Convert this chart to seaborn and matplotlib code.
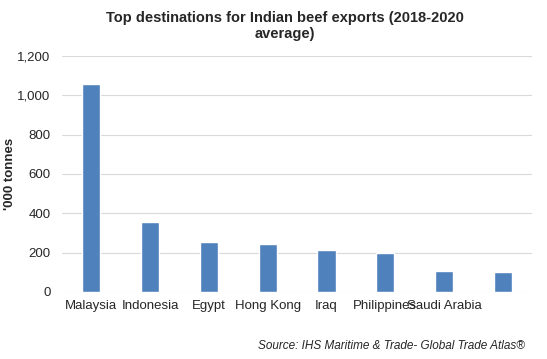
import seaborn as sns
import matplotlib.pyplot as plt
import pandas as pd

countries = ["Malaysia", "Indonesia", "Egypt", "Hong Kong", "Iraq",
             "Philippines", "Saudi Arabia", "Other"]
tick_labels = ["Malaysia", "Indonesia", "Egypt", "Hong Kong", "Iraq",
               "Philippines", "Saudi Arabia", ""]
tonnes = [1058, 357, 256, 241, 215, 200, 108, 103]

sns.set_theme(style="white")
plt.rcParams["font.family"] = ["Liberation Sans", "DejaVu Sans"]

df = pd.DataFrame({"country": countries, "tonnes": tonnes})

fig = plt.figure(figsize=(5.47, 3.59), dpi=100)
ax = fig.add_axes([0.113, 0.187, 0.86, 0.657])
sns.barplot(data=df, x="country", y="tonnes", color="#4F81BD",
            width=0.31, saturation=1, ax=ax, zorder=3)

ax.set_ylim(0, 1200)
ax.set_yticks(range(0, 1201, 200))
ax.set_yticklabels([f"{v:,}" for v in range(0, 1201, 200)], fontsize=9.5)
ax.set_xticks(range(len(tick_labels)))
ax.set_xticklabels(tick_labels, fontsize=9.5)
ax.tick_params(axis="y", length=0, pad=8)
ax.tick_params(axis="x", length=0, pad=6)
ax.yaxis.grid(True, color="#D9D9D9", linewidth=0.8, zorder=0)
for s in ax.spines.values():
    s.set_visible(False)
ax.set_xlabel("")
ax.set_ylabel("'000 tonnes", fontsize=9.5, fontweight="bold")
ax.yaxis.set_label_coords(-0.097, 0.5)

fig.suptitle("Top destinations for Indian beef exports (2018-2020\naverage)",
             x=0.52, y=0.97, fontsize=10.5, fontweight="bold", linespacing=1.2)
fig.text(0.96, 0.036, "Source: IHS Maritime & Trade- Global Trade Atlas®",
         ha="right", va="center", fontsize=8.5, style="italic")

fig.savefig("out.png", dpi=100)
